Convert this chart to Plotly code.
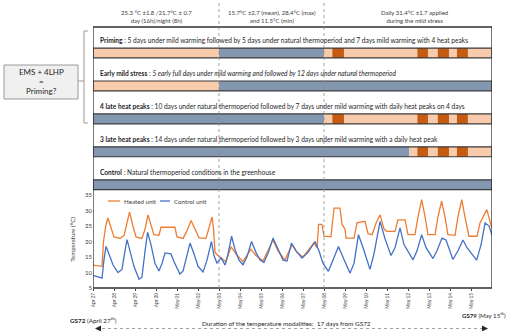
import plotly.graph_objects as go

W, H = 511, 331


def px(p):
    # pixel column -> paper x
    return p / W


def py(p):
    # pixel row -> paper y
    return 1 - p / H


# ---- data -------------------------------------------------------------
tick_labels = ["Apr 27", "Apr 28", "Apr 29", "Apr 30", "May 01", "May 02", "May 03",
               "May 04", "May 05", "May 06", "May 07", "May 08", "May 09", "May 10",
               "May 11", "May 12", "May 13", "May 14", "May 15"]

# (days after Apr 27 00:00, temperature in degC)
heated_points = [
    (0, 12.4), (0.43, 12.0), (0.5, 20.0), (0.62, 25.5), (0.71, 27.6), (0.86, 24.0),
    (1.0, 21.5), (1.29, 21.0), (1.48, 22.0), (1.62, 26.0), (1.74, 29.5), (1.9, 25.0),
    (2.05, 21.5), (2.33, 21.0), (2.48, 24.0), (2.62, 28.6), (2.76, 25.0), (2.9, 22.2),
    (3.14, 22.0), (3.24, 24.6), (3.9, 24.6), (4.0, 21.5), (4.29, 21.0), (4.48, 23.5),
    (4.67, 26.8), (4.86, 24.0), (5.05, 21.2), (5.38, 21.0), (5.52, 24.5), (5.67, 27.9),
    (5.74, 24.0), (5.81, 16.5), (5.95, 15.5), (6.14, 14.5), (6.33, 13.5), (6.57, 18.3),
    (6.81, 16.0), (7.14, 13.5), (7.52, 17.5), (7.76, 15.5), (8.1, 13.8), (8.57, 20.5),
    (8.81, 17.0), (9.14, 14.0), (9.48, 19.0), (9.71, 16.5), (10.0, 15.0), (10.29, 17.5),
    (10.52, 19.5), (10.67, 18.0), (10.74, 25.5), (10.9, 25.5), (11.0, 21.7), (11.33, 21.5),
    (11.48, 30.8), (11.76, 30.8), (11.86, 25.5), (12.0, 24.0), (12.05, 21.1), (12.43, 21.1),
    (12.57, 26.0), (12.95, 26.5), (13.1, 22.5), (13.29, 22.2), (13.48, 26.0), (13.67, 28.6),
    (13.86, 24.0), (14.0, 23.3), (14.38, 23.3), (14.52, 27.0), (14.86, 27.0), (15.0, 22.2),
    (15.33, 22.2), (15.48, 28.0), (15.65, 33.5), (15.81, 28.0), (15.95, 22.2), (16.29, 22.2),
    (16.43, 28.0), (16.6, 33.0), (16.76, 28.0), (16.9, 22.2), (17.24, 22.0), (17.38, 28.0),
    (17.56, 33.5), (17.71, 28.0), (17.9, 21.7), (18.29, 21.7), (18.43, 26.0), (18.75, 30.3),
    (18.99, 24.5),
]

control_points = [
    (0, 9.1), (0.24, 8.6), (0.43, 8.2), (0.52, 14.0), (0.62, 18.4), (0.76, 16.0),
    (0.95, 12.5), (1.19, 10.0), (1.38, 11.0), (1.5, 16.0), (1.62, 20.6), (1.76, 17.0),
    (1.95, 12.0), (2.19, 7.8), (2.33, 8.5), (2.48, 17.0), (2.6, 23.0), (2.76, 19.0),
    (2.95, 13.0), (3.14, 10.5), (3.29, 13.0), (3.43, 16.3), (3.71, 16.0), (3.86, 13.5),
    (4.14, 9.5), (4.29, 10.5), (4.48, 16.0), (4.62, 19.5), (4.81, 16.0), (5.0, 12.0),
    (5.24, 10.2), (5.43, 14.0), (5.64, 20.0), (5.76, 15.5), (5.9, 13.1), (6.1, 14.7),
    (6.29, 12.4), (6.43, 16.0), (6.6, 21.7), (6.76, 17.5), (6.95, 14.0), (7.14, 12.5),
    (7.33, 15.0), (7.55, 20.0), (7.76, 16.5), (7.95, 14.0), (8.14, 13.2), (8.38, 17.0),
    (8.57, 21.1), (8.81, 17.5), (9.05, 14.0), (9.24, 13.7), (9.45, 19.5), (9.67, 17.0),
    (9.95, 14.7), (10.24, 16.5), (10.57, 20.0), (10.76, 17.0), (10.95, 13.0), (11.21, 10.4),
    (11.43, 14.0), (11.69, 18.4), (11.9, 15.0), (12.24, 9.8), (12.43, 13.0), (12.64, 22.2),
    (12.86, 18.0), (13.19, 11.0), (13.38, 16.0), (13.67, 26.5), (13.9, 21.0), (14.19, 15.5),
    (14.38, 18.0), (14.62, 24.4), (14.81, 19.0), (15.24, 14.1), (15.43, 17.0), (15.65, 22.2),
    (15.86, 18.0), (16.19, 14.5), (16.38, 17.0), (16.62, 21.1), (16.81, 20.5), (17.14, 14.2),
    (17.38, 17.0), (17.62, 20.5), (17.81, 18.0), (18.27, 14.0), (18.48, 19.0), (18.67, 26.0),
    (18.86, 25.0), (19.0, 22.0),
]

series_names = ["Heated unit", "Control unit"]
series_colors = ["#ED7D31", "#4472C4"]

row_texts = [
    "<b>Priming</b> : 5 days under mild warming followed by 5 days under natural "
    "thermoperiod and 7 days mild warming with 4 heat peaks",
    "<b>Early mild stress</b> : <i>5 early full days under mild warming and followed by "
    "12 days under natural thermoperiod</i>",
    "<b>4 late heat peaks</b> : 10 days under natural thermoperiod followed by 7 days "
    "under mild warming with daily heat peaks on 4 days",
    "<b>3 late heat peaks</b> : 14 days under natural thermoperiod followed by 3 days "
    "under mild warming with a daily heat peak",
    "<b>Control</b> : Natural thermoperiod conditions in the greenhouse",
]

# (start day, end day, regime) for each treatment row
row_segments = [
    [(0, 6, "mild"), (6, 11, "natural"), (11, 19, "mild")],
    [(0, 6, "mild"), (6, 19, "natural")],
    [(0, 11, "natural"), (11, 19, "mild")],
    [(0, 15.05, "natural"), (15.05, 19, "mild")],
    [(0, 19, "natural")],
]
peak_starts = [11.4, 15.45, 16.42, 17.33]
peak_ends = [11.95, 15.95, 16.95, 17.85]
row_peaks = [[0, 1, 2, 3], [], [0, 1, 2, 3], [1, 2, 3], []]

regime_colors = {"mild": "#F8CBAD", "natural": "#8497B0", "peak": "#C55A11"}

headers = [
    (3.0, "25.3 °C ±1.8 /21.7°C ± 0.7<br>day (16h)/night (8h)"),
    (8.5, "15.7°C ±2.7 (mean), 28.4°C (max)<br>and 11.5°C (min)"),
    (15.3, "Daily 31.4°C ±1.7 applied<br>during the mild stress"),
]

# ---- figure -----------------------------------------------------------
fig = go.Figure()

bar_w = 0.30
for i, segs in enumerate(row_segments):
    for start, end, kind in segs:
        fig.add_trace(go.Bar(y=[i], x=[end - start], base=[start], orientation="h",
                             width=bar_w, marker=dict(color=regime_colors[kind], line_width=0),
                             xaxis="x", yaxis="y2", showlegend=False, hoverinfo="skip"))
    for k in row_peaks[i]:
        fig.add_trace(go.Bar(y=[i], x=[peak_ends[k] - peak_starts[k]], base=[peak_starts[k]],
                             orientation="h", width=bar_w,
                             marker=dict(color=regime_colors["peak"], line_width=0),
                             xaxis="x", yaxis="y2", showlegend=False, hoverinfo="skip"))
    # dark outline of the whole bar
    fig.add_trace(go.Bar(y=[i], x=[19], base=[0], orientation="h", width=bar_w,
                         marker=dict(color="rgba(0,0,0,0)", line=dict(color="#3a3a3a", width=1.2)),
                         xaxis="x", yaxis="y2", showlegend=False, hoverinfo="skip"))

for pts, name, col in zip([heated_points, control_points], series_names, series_colors):
    fig.add_trace(go.Scatter(x=[p[0] for p in pts], y=[p[1] for p in pts],
                             mode="lines", name=name, showlegend=False,
                             line=dict(color=col, width=1.3)))

annotations = []
for i, txt in enumerate(row_texts):
    annotations.append(dict(x=0.25, y=i - 0.40, xref="x", yref="y2", text=txt,
                            showarrow=False, xanchor="left", yanchor="middle",
                            font=dict(size=6.6, color="#262626")))
for xc, txt in headers:
    annotations.append(dict(x=xc, y=py(16), xref="x", yref="paper", text=txt,
                            showarrow=False, xanchor="center", yanchor="middle",
                            font=dict(size=6, color="#404040")))

# small legend drawn by hand (short line samples as in the original)
legend_x = [(108, 120, 122), (160, 170, 172)]
shapes = []
for (x0, x1, xt), name, col in zip(legend_x, series_names, series_colors):
    shapes.append(dict(type="line", xref="paper", yref="paper", x0=px(x0), x1=px(x1),
                       y0=py(201), y1=py(201), line=dict(color=col, width=1.3)))
    annotations.append(dict(x=px(xt), y=py(201), xref="paper", yref="paper", text=name,
                            showarrow=False, xanchor="left", yanchor="middle",
                            font=dict(size=6.2, color="#404040")))

# left comment box
for yy, txt in [(71.5, "EMS + 4LHP"), (81, "="), (90.5, "Priming?")]:
    annotations.append(dict(x=px(41), y=py(yy), xref="paper", yref="paper", text=txt,
                            showarrow=False, xanchor="center", yanchor="middle",
                            font=dict(size=8, color="#262626")))

# bottom captions
annotations += [
    dict(x=px(68), y=py(320), xref="paper", yref="paper", showarrow=False,
         text="<b>GS72</b> (April 27<sup>th</sup>)", xanchor="left", yanchor="middle",
         font=dict(size=6.3, color="#262626")),
    dict(x=px(286), y=py(323), xref="paper", yref="paper", showarrow=False,
         text="Duration of the temperature modalities:  17 days from GS72",
         xanchor="center", yanchor="middle", font=dict(size=6.4, color="#262626")),
    dict(x=px(508), y=py(315), xref="paper", yref="paper", showarrow=False,
         text="<b>GS79</b> (May 15<sup>th</sup>)", xanchor="right", yanchor="middle",
         font=dict(size=6.1, color="#262626")),
    dict(x=px(488), y=py(328.5), xref="paper", yref="paper", text="", showarrow=True,
         ax=-6, ay=0, arrowhead=2, arrowsize=1, arrowwidth=1.2, arrowcolor="#262626"),
    dict(x=px(95), y=py(328.5), xref="paper", yref="paper", text="", showarrow=True,
         ax=6, ay=0, arrowhead=2, arrowsize=1, arrowwidth=1.2, arrowcolor="#262626"),
]

shapes += [
    # outer frame of schematic + chart
    dict(type="rect", xref="x", yref="paper", x0=0, x1=19, y0=py(288), y1=py(27),
         line=dict(color="#303030", width=1.3), layer="above"),
    # dotted separators of the three phases
    dict(type="line", xref="x", yref="paper", x0=6, x1=6, y0=py(288), y1=py(3),
         line=dict(color="#8c8c8c", width=0.8, dash="dot"), layer="above"),
    dict(type="line", xref="x", yref="paper", x0=11, x1=11, y0=py(288), y1=py(3),
         line=dict(color="#8c8c8c", width=0.8, dash="dot"), layer="above"),
    # comment box
    dict(type="rect", xref="paper", yref="paper", x0=px(4), x1=px(78), y0=py(99), y1=py(65),
         fillcolor="#f0f0f0", line=dict(color="#9a9a9a", width=1), layer="below"),
    # bracket
    dict(type="path", xref="paper", yref="paper",
         path=f"M {px(88)},{py(31)} L {px(84)},{py(31)} L {px(84)},{py(123)} L {px(88)},{py(123)}",
         line=dict(color="#9a9a9a", width=1)),
    dict(type="line", xref="paper", yref="paper", x0=px(78), x1=px(84), y0=py(81), y1=py(81),
         line=dict(color="#9a9a9a", width=1)),
    # duration arrow
    dict(type="line", xref="paper", yref="paper", x0=px(96), x1=px(487), y0=py(328.5),
         y1=py(328.5), line=dict(color="#a0a0a0", width=1, dash="dot")),
]

fig.update_layout(
    width=W, height=H,
    margin=dict(l=0, r=0, t=0, b=0, autoexpand=False),
    paper_bgcolor="white", plot_bgcolor="white",
    font=dict(family="Lato", color="#404040"),
    barmode="overlay",
    showlegend=False,
    xaxis=dict(domain=[px(93), px(492)], range=[0, 19], anchor="y", automargin=False,
               tickmode="array", tickvals=list(range(len(tick_labels))), ticktext=tick_labels,
               tickangle=-90, tickfont=dict(size=4.8, color="#404040"),
               ticks="outside", ticklen=2, tickcolor="#404040",
               showgrid=False, zeroline=False, showline=False),
    yaxis=dict(domain=[py(288), py(191)], range=[5, 36.3], anchor="x", automargin=False,
               tickmode="array", tickvals=[5, 10, 15, 20, 25, 30, 35],
               tickfont=dict(size=6, color="#404040"), ticks="",
               showgrid=False, zeroline=False, showline=False,
               title=dict(text="Temperature (°C)", font=dict(size=6, color="#404040"),
                          standoff=8)),
    yaxis2=dict(domain=[py(191), py(27)], range=[4.19, -0.79], anchor="x", automargin=False,
                visible=False, showgrid=False, zeroline=False),
    annotations=annotations,
    shapes=shapes,
)

# page body has a default 8px margin; drop it so the figure fills the window
fig.write_html("out.html", config={"displayModeBar": False},
               post_script="document.body.style.margin='0px';")
